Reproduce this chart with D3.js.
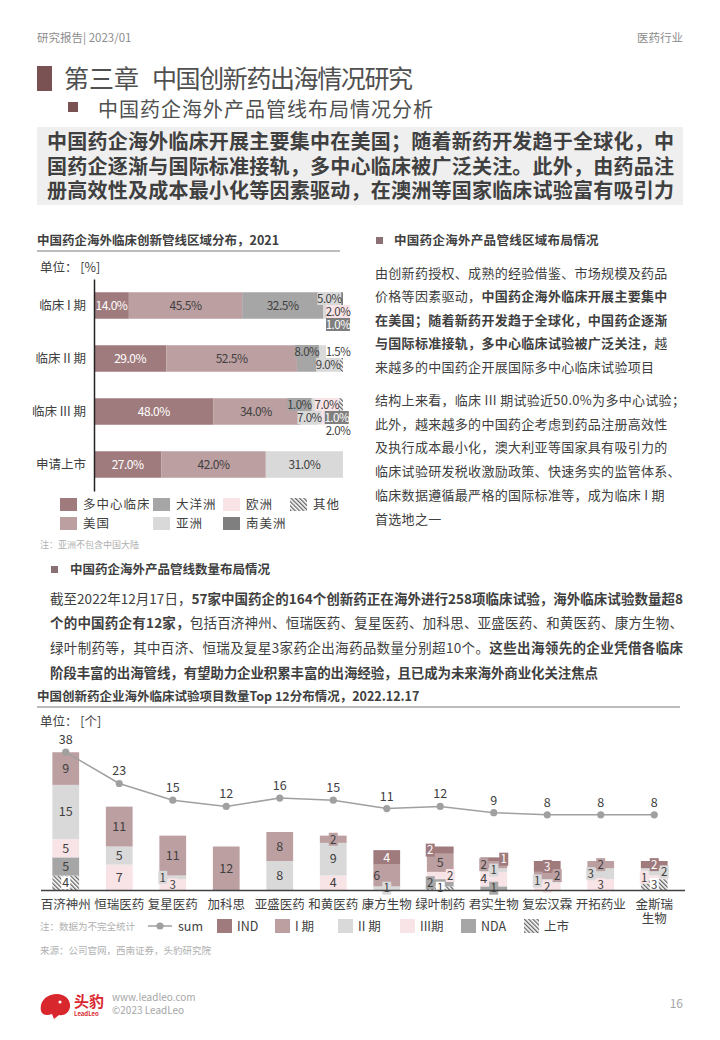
<!DOCTYPE html>
<html>
<head>
<meta charset="utf-8">
<script src="https://cdn.jsdelivr.net/npm/d3@7"></script>
<style>
html, body { margin: 0; padding: 0; background: #fff; }
svg text { font-family: "Noto Sans CJK SC", "Noto Sans", sans-serif; }
</style>
</head>
<body>
<script>
// ---- left chart: region split of overseas pipelines, 2021 (%)
const leftCats = ["临床 I 期", "临床 II 期", "临床 III 期", "申请上市"];
const regionKeys = ["多中心临床", "美国", "大洋洲", "亚洲", "欧洲", "南美洲", "其他"];
const multiCenter = [14.0, 29.0, 48.0, 27.0];
const usa = [45.5, 52.5, 34.0, 42.0];
const oceania = [32.5, 8.0, 1.0, 0];
const asia = [5.0, 9.0, 7.0, 31.0];
const europe = [2.0, 0, 7.0, 0];
const southAmerica = [1.0, 0, 1.0, 0];
const others = [0, 1.5, 2.0, 0];

// ---- bottom chart: top 12 companies by overseas trials
const companies = ["百济神州", "恒瑞医药", "复星医药", "加科思", "亚盛医药", "和黄医药", "康方生物", "绿叶制药", "君实生物", "复宏汉霖", "开拓药业", "金斯瑞生物"];
const sumValues = [38, 23, 15, 12, 16, 15, 11, 12, 9, 8, 8, 8];
const listed = [4, 0, 0, 0, 0, 0, 0, 1, 0, 0, 0, 3];
const nda = [5, 0, 0, 0, 0, 0, 0, 2, 1, 0, 0, 0];
const phase3 = [5, 7, 3, 0, 0, 4, 0, 2, 4, 2, 3, 1];
const phase2 = [15, 5, 1, 0, 8, 9, 1, 0, 1, 1, 3, 2];
const phase1 = [9, 11, 11, 12, 8, 2, 6, 5, 2, 2, 2, 0];
const ind = [0, 0, 0, 0, 0, 0, 4, 2, 1, 3, 0, 2];
const stageKeys = ["上市", "NDA", "III期", "II 期", "I 期", "IND"];

const W = 720, H = 1040;
const TEXT = "#404040";
const MAUVE_DARK = "#a07b7d", MAUVE = "#bc9fa1", GRAY = "#a6a6a6", LIGHT = "#d9d9d9", PINK = "#f8e3e6", DARK = "#7f7f7f";

const svg = d3.select("body").append("svg")
	.attr("width", W)
	.attr("height", H);

const defs = svg.append("defs");
const hatch = defs.append("pattern")
	.attr("id", "hatch")
	.attr("patternUnits", "userSpaceOnUse")
	.attr("width", 3)
	.attr("height", 3)
	.attr("patternTransform", "rotate(-45)");
hatch.append("rect").attr("width", 3).attr("height", 3).attr("fill", "#fff");
hatch.append("line").attr("x1", 0.7).attr("x2", 0.7).attr("y1", 0).attr("y2", 3)
	.attr("stroke", "#555").attr("stroke-width", 1.2);

function writeLine(g, x, y, parts, size, len, fill = TEXT) {
	const t = g.append("text")
		.attr("x", x)
		.attr("y", y)
		.attr("font-size", size)
		.attr("fill", fill);
	parts.forEach(p => t.append("tspan").attr("font-weight", p[1] ? "bold" : null).text(p[0]));
	if (len) t.attr("textLength", len).attr("lengthAdjust", "spacing");
	return t;
}

// first free slot for a small label, given the labels already placed
function pickSlot(placed, candidates, w, h) {
	for (const c of candidates) {
		if (!placed.some(p => Math.abs(p.x - c.x) < w && Math.abs(p.y - c.y) < h)) return c;
	}
	return candidates[candidates.length - 1];
}

// ---- header
svg.append("text").attr("x", 37).attr("y", 42).attr("font-size", 11.5).attr("fill", "#8c8c8c").text("研究报告| 2023/01");
svg.append("text").attr("x", 683).attr("y", 42).attr("font-size", 11.5).attr("fill", "#8c8c8c").attr("text-anchor", "end").text("医药行业");

svg.append("rect").attr("x", 37).attr("y", 66).attr("width", 15).attr("height", 25).attr("fill", "#7b5254");
svg.append("text").attr("x", 64).attr("y", 88).attr("font-size", 25).attr("fill", "#505050").text("第三章");
svg.append("text").attr("x", 152).attr("y", 88).attr("font-size", 25).attr("fill", "#505050").attr("textLength", 261).text("中国创新药出海情况研究");

svg.append("rect").attr("x", 68).attr("y", 102).attr("width", 10).attr("height", 10).attr("fill", "#7b5254");
svg.append("text").attr("x", 98).attr("y", 117).attr("font-size", 20).attr("fill", "#505050").attr("textLength", 335).text("中国药企海外产品管线布局情况分析");

svg.append("rect").attr("x", 37).attr("y", 127).attr("width", 646).attr("height", 78).attr("fill", "#efefef");
[
	"中国药企海外临床开展主要集中在美国；随着新药开发趋于全球化，中",
	"国药企逐渐与国际标准接轨，多中心临床被广泛关注。此外，由药品注",
	"册高效性及成本最小化等因素驱动，在澳洲等国家临床试验富有吸引力"
].forEach((s, i) => writeLine(svg, 47, 149 + i * 24.5, [[s, true]], 20, 627));

// ---- left chart
const lc = svg.append("g");
lc.append("text").attr("x", 37).attr("y", 245).attr("font-size", 12.5).attr("font-weight", "bold").attr("fill", TEXT)
	.text("中国药企海外临床创新管线区域分布，2021");
lc.append("line").attr("x1", 37).attr("x2", 340).attr("y1", 251).attr("y2", 251).attr("stroke", "#a6a6a6").attr("stroke-width", 1.5);
lc.append("text").attr("x", 40).attr("y", 272).attr("font-size", 12.5).attr("fill", TEXT).text("单位： [%]");

const xL = d3.scaleLinear().domain([0, 100]).range([94, 343]);
const yL = d3.scaleBand().domain(leftCats).range([279, 491]).paddingInner(0.5).paddingOuter(0.25);

const leftRows = leftCats.map((c, i) => {
	const r = { cat: c };
	[multiCenter, usa, oceania, asia, europe, southAmerica, others].forEach((arr, j) => r[regionKeys[j]] = arr[i]);
	return r;
});
const leftStack = d3.stack().keys(regionKeys)(leftRows);
const regionColor = d3.scaleOrdinal().domain(regionKeys)
	.range([MAUVE_DARK, MAUVE, GRAY, LIGHT, PINK, DARK, "url(#hatch)"]);

lc.append("g").selectAll("g")
	.data(leftStack)
	.join("g")
	.attr("fill", d => regionColor(d.key))
	.selectAll("rect")
	.data(d => d.filter(p => p[1] - p[0] > 0))
	.join("rect")
	.attr("x", d => xL(d[0]))
	.attr("y", d => yL(d.data.cat))
	.attr("width", d => xL(d[1]) - xL(d[0]))
	.attr("height", yL.bandwidth());

const yAxisL = lc.append("g")
	.attr("transform", `translate(${xL(0)},0)`)
	.call(d3.axisLeft(yL).tickSize(0).tickSizeOuter(0).tickPadding(8));
yAxisL.attr("font-family", null);
yAxisL.select(".domain").attr("stroke", "#222").attr("stroke-width", 1.5);
yAxisL.selectAll(".tick text").attr("font-family", null).attr("font-size", 12.5).attr("fill", TEXT);

// segment labels; small segments get stacked rows at the bar end
const rowDy = [-7, 6, 19];
leftCats.forEach((c, i) => {
	const placed = [];
	const cy = yL(c) + yL.bandwidth() / 2;
	leftStack.forEach(s => {
		const v = s[i][1] - s[i][0];
		if (!v) return;
		const white = s.key === "多中心临床" || s.key === "南美洲";
		let x = xL((s[i][0] + s[i][1]) / 2), y = cy;
		if (v < 10) {
			x = Math.min(x, xL(100) - 5);
			const slot = pickSlot(placed, rowDy.map(dy => ({ x, y: cy + dy })), 27, 12);
			placed.push(slot);
			y = slot.y;
			lc.append("rect")
				.attr("x", x - 12).attr("y", y - 6.5)
				.attr("width", 24).attr("height", 13)
				.attr("fill", s.key === "其他" ? "#fff" : regionColor(s.key));
		}
		lc.append("text")
			.attr("x", x).attr("y", y + 4.2)
			.attr("text-anchor", "middle")
			.attr("font-size", v < 10 ? 11.5 : 12)
			.attr("fill", white ? "#fff" : TEXT)
			.attr("letter-spacing", -0.5)
			.text(v.toFixed(1) + "%");
	});
});

// legend
const legendCols = [[0, 1], [2, 3], [4, 5], [6]];
const legendX = [60, 153, 223, 290];
legendCols.forEach((col, ci) => col.forEach((ki, ri) => {
	const g = lc.append("g").attr("transform", `translate(${legendX[ci]},${498 + ri * 19})`);
	g.append("rect").attr("width", 17).attr("height", 13).attr("fill", regionColor(regionKeys[ki]));
	g.append("text").attr("x", 23).attr("y", 11).attr("font-size", 12.5).attr("fill", TEXT)
		.attr("letter-spacing", 1).text(regionKeys[ki]);
}));
lc.append("text").attr("x", 40).attr("y", 548).attr("font-size", 9).attr("fill", "#b0b0b0").text("注：亚洲不包含中国大陆");

// ---- right text column
const rc = svg.append("g").attr("letter-spacing", 0.3);
rc.append("rect").attr("x", 376).attr("y", 237).attr("width", 7).attr("height", 7).attr("fill", "#8a7072");
rc.append("text").attr("x", 394).attr("y", 245).attr("font-size", 12.5).attr("font-weight", "bold").attr("fill", TEXT)
	.text("中国药企海外产品管线区域布局情况");
const para1 = [
	[["由创新药授权、成熟的经验借鉴、市场规模及药品", false]],
	[["价格等因素驱动，", false], ["中国药企海外临床开展主要集中", true]],
	[["在美国；随着新药开发趋于全球化，中国药企逐渐", true]],
	[["与国际标准接轨，多中心临床试验被广泛关注，", true], ["越", false]],
	[["来越多的中国药企开展国际多中心临床试验项目", false]]
];
para1.forEach((p, i) => writeLine(rc, 375, 277.5 + i * 23.6, p, 13));
const para2 = [
	"结构上来看，临床 III 期试验近50.0%为多中心试验；",
	"此外，越来越多的中国药企考虑到药品注册高效性",
	"及执行成本最小化，澳大利亚等国家具有吸引力的",
	"临床试验研发税收激励政策、快速务实的监管体系、",
	"临床数据遵循最严格的国际标准等，成为临床 I 期",
	"首选地之一"
];
para2.forEach((s, i) => writeLine(rc, 375, 405 + i * 23.7, [[s, false]], 13));

// ---- middle text
const mt = svg.append("g");
mt.append("rect").attr("x", 51).attr("y", 566).attr("width", 7).attr("height", 7).attr("fill", "#8a7072");
mt.append("text").attr("x", 70).attr("y", 574).attr("font-size", 12.5).attr("font-weight", "bold").attr("fill", TEXT)
	.text("中国药企海外产品管线数量布局情况");
const para3 = [
	[["截至2022年12月17日，", false], ["57家中国药企的164个创新药正在海外进行258项临床试验，海外临床试验数量超8", true]],
	[["个的中国药企有12家，", true], ["包括百济神州、恒瑞医药、复星医药、加科思、亚盛医药、和黄医药、康方生物、", false]],
	[["绿叶制药等，其中百济、恒瑞及复星3家药企出海药品数量分别超10个。", false], ["这些出海领先的企业凭借各临床", true]],
	[["阶段丰富的出海管线，有望助力企业积累丰富的出海经验，且已成为未来海外商业化关注焦点", true]]
];
const para3Len = [633, 633, 633, 548];
para3.forEach((p, i) => writeLine(mt, 50, 603.5 + i * 24.7, p, 13.5, para3Len[i]));

// ---- bottom chart
const bc = svg.append("g");
bc.append("text").attr("x", 37).attr("y", 701).attr("font-size", 12.5).attr("font-weight", "bold").attr("fill", TEXT)
	.text("中国创新药企业海外临床试验项目数量Top 12分布情况，2022.12.17");
bc.append("line").attr("x1", 37).attr("x2", 680).attr("y1", 707).attr("y2", 707).attr("stroke", "#a6a6a6").attr("stroke-width", 1.5);
bc.append("text").attr("x", 40).attr("y", 726).attr("font-size", 12.5).attr("fill", TEXT).text("单位： [个]");

const xB = d3.scaleBand().domain(companies).range([39, 681]).paddingInner(0.5).paddingOuter(0.25);
const yB = d3.scaleLinear().domain([0, 40]).range([890, 745]);
const yS = d3.scaleLinear().domain([0, 40]).range([831.5, 748]);

const stageArrays = [listed, nda, phase3, phase2, phase1, ind];
const stageColor = d3.scaleOrdinal().domain(stageKeys)
	.range(["url(#hatch)", GRAY, PINK, LIGHT, MAUVE, MAUVE_DARK]);
const rowsB = companies.map((c, i) => {
	const r = { company: c };
	stageArrays.forEach((arr, j) => r[stageKeys[j]] = arr[i]);
	return r;
});
const stackB = d3.stack().keys(stageKeys)(rowsB);

bc.append("g").selectAll("g")
	.data(stackB)
	.join("g")
	.attr("fill", d => stageColor(d.key))
	.selectAll("rect")
	.data(d => d.filter(p => p[1] - p[0] > 0))
	.join("rect")
	.attr("x", d => xB(d.data.company))
	.attr("y", d => yB(d[1]))
	.attr("width", xB.bandwidth())
	.attr("height", d => yB(d[0]) - yB(d[1]));

const colDx = [0, -10, 10, 20, -20];
companies.forEach((c, i) => {
	const placed = [];
	const cx = xB(c) + xB.bandwidth() / 2;
	stackB.forEach(s => {
		const v = s[i][1] - s[i][0];
		if (!v) return;
		const cy = (yB(s[i][0]) + yB(s[i][1])) / 2;
		const slot = pickSlot(placed, colDx.map(dx => ({ x: cx + dx, y: cy })), v >= 10 ? 15 : 10, 14);
		placed.push(slot);
		if (v <= 3 || s.key === "上市") {
			bc.append("rect")
				.attr("x", slot.x - 4.5).attr("y", cy - 6.5)
				.attr("width", 9).attr("height", 13)
				.attr("fill", s.key === "上市" ? "#fff" : stageColor(s.key));
		}
		bc.append("text")
			.attr("x", slot.x).attr("y", cy + 4.3)
			.attr("text-anchor", "middle")
			.attr("font-size", v <= 3 ? 11.5 : 12.5)
			.attr("fill", s.key === "IND" ? "#fff" : TEXT)
			.text(v);
	});
});

// sum line
const sumLine = d3.line()
	.x((d, i) => xB(companies[i]) + xB.bandwidth() / 2)
	.y(d => yS(d));
bc.append("path")
	.datum(sumValues)
	.attr("fill", "none")
	.attr("stroke", "#a0a0a0")
	.attr("stroke-width", 1.5)
	.attr("d", sumLine);
bc.append("g").selectAll("circle")
	.data(sumValues)
	.join("circle")
	.attr("cx", (d, i) => xB(companies[i]) + xB.bandwidth() / 2)
	.attr("cy", d => yS(d))
	.attr("r", 3.6)
	.attr("fill", "#a0a0a0");
bc.append("g").selectAll("text")
	.data(sumValues)
	.join("text")
	.attr("x", (d, i) => xB(companies[i]) + xB.bandwidth() / 2)
	.attr("y", d => yS(d) - 8)
	.attr("text-anchor", "middle")
	.attr("font-size", 12.5)
	.attr("fill", TEXT)
	.text(d => d);

// x axis
const xAxisB = bc.append("g")
	.attr("transform", `translate(0,${yB(0)})`)
	.call(d3.axisBottom(xB).tickSize(0).tickSizeOuter(0).tickPadding(10));
xAxisB.attr("font-family", null);
xAxisB.select(".domain").attr("stroke", "#404040").attr("stroke-width", 1.3)
	.attr("d", `M${xB.range()[0] + 2},0.5H${xB.range()[1] + 4}`);
xAxisB.selectAll(".tick text")
	.attr("font-family", null)
	.attr("font-size", 12.5)
	.attr("fill", TEXT)
	.each(function (d) {
		if (d.length > 4) {
			const t = d3.select(this).text(null);
			t.append("tspan").attr("x", 0).text(d.slice(0, 3));
			t.append("tspan").attr("x", 0).attr("dy", "1.15em").text(d.slice(3));
		}
	});

// bottom legend
bc.append("text").attr("x", 40).attr("y", 930).attr("font-size", 9.5).attr("fill", "#b0b0b0").text("注：数据为不完全统计");
const lg = bc.append("g").attr("transform", "translate(0,926)");
lg.append("line").attr("x1", 148).attr("x2", 172).attr("y1", 0).attr("y2", 0).attr("stroke", "#a0a0a0").attr("stroke-width", 1.5);
lg.append("circle").attr("cx", 160).attr("cy", 0).attr("r", 3.6).attr("fill", "#a0a0a0");
lg.append("text").attr("x", 178).attr("y", 4.5).attr("font-size", 12.5).attr("fill", TEXT).text("sum");
const legendOrder = ["IND", "I 期", "II 期", "III期", "NDA", "上市"];
const legendBX = [217, 275, 338, 400, 461, 524];
legendOrder.forEach((key, i) => {
	lg.append("rect").attr("x", legendBX[i]).attr("y", -7).attr("width", 15).attr("height", 14).attr("fill", stageColor(key));
	lg.append("text").attr("x", legendBX[i] + 20).attr("y", 4.5).attr("font-size", 12.5).attr("fill", TEXT).text(key);
});
bc.append("text").attr("x", 40).attr("y", 954).attr("font-size", 9.5).attr("fill", "#b0b0b0").text("来源：公司官网，西南证券，头豹研究院");

// ---- footer
const ft = svg.append("g");
ft.append("path")
	.attr("d", "M41,1011 C39,1001 47,994 57,994 C65,994 71,1000 70,1007 C69,1013 64,1016 59,1015 L54,1019 L52,1014 C47,1016 42,1015 41,1011 Z")
	.attr("fill", "#d9272e");
ft.append("circle").attr("cx", 60).attr("cy", 1002).attr("r", 1.6).attr("fill", "#fff");
ft.append("text").attr("x", 74).attr("y", 1007).attr("font-size", 15).attr("font-weight", "bold").attr("fill", "#d9272e").text("头豹");
ft.append("text").attr("x", 74).attr("y", 1016).attr("font-size", 6).attr("font-weight", "bold").attr("fill", "#d9272e").text("LeadLeo");
ft.append("text").attr("x", 112).attr("y", 1001).attr("font-size", 10).attr("fill", "#a6a6a6").text("www.leadleo.com");
ft.append("text").attr("x", 112).attr("y", 1014).attr("font-size", 10).attr("fill", "#a6a6a6").text("©2023 LeadLeo");
ft.append("text").attr("x", 683).attr("y", 1008).attr("font-size", 12).attr("fill", "#a6a6a6").attr("text-anchor", "end").text("16");
</script>
</body>
</html>
